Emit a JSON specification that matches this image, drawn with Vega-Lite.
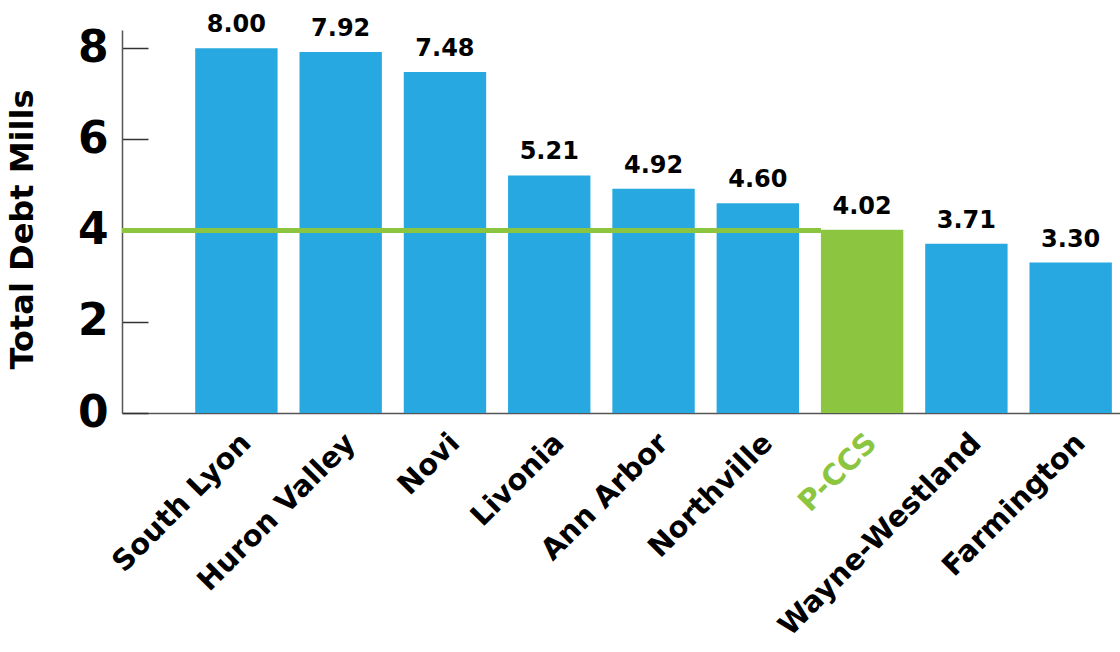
{
  "$schema": "https://vega.github.io/schema/vega-lite/v6.json",
  "width": 998,
  "height": 383,
  "autosize": "none",
  "padding": {"left": 122, "top": 30, "right": 0, "bottom": 239},
  "background": "white",
  "config": {"view": {"stroke": null}, "font": "DejaVu Sans"},
  "data": {
    "values": [
      {"district": "South Lyon", "mills": 8.00},
      {"district": "Huron Valley", "mills": 7.92},
      {"district": "Novi", "mills": 7.48},
      {"district": "Livonia", "mills": 5.21},
      {"district": "Ann Arbor", "mills": 4.92},
      {"district": "Northville", "mills": 4.60},
      {"district": "P-CCS", "mills": 4.02},
      {"district": "Wayne-Westland", "mills": 3.71},
      {"district": "Farmington", "mills": 3.30}
    ]
  },
  "encoding": {
    "x": {
      "field": "district",
      "type": "nominal",
      "sort": null,
      "scale": {
        "domain": ["South Lyon", "Huron Valley", "Novi", "Livonia", "Ann Arbor", "Northville", "P-CCS", "Wayne-Westland", "Farmington"],
        "paddingInner": 0.21,
        "paddingOuter": 0.39,
        "align": 0.9
      },
      "axis": {
        "title": null,
        "labelAngle": -45,
        "labelFont": "DejaVu Sans",
        "labelFontWeight": "bold",
        "labelFontSize": 29,
        "labelLimit": 0,
        "labelColor": {"condition": {"test": "datum.value === 'P-CCS'", "value": "#8CC540"}, "value": "#000000"},
        "ticks": false,
        "labelPadding": 15,
        "domainColor": "#555555",
        "domainWidth": 1.5
      }
    }
  },
  "layer": [
    {
      "mark": {"type": "bar"},
      "encoding": {
        "y": {
          "field": "mills",
          "type": "quantitative",
          "scale": {"domain": [0, 8.4], "nice": false},
          "axis": {
            "title": "Total Debt Mills",
            "titleFont": "DejaVu Sans",
            "titleFontWeight": "bold",
            "titleFontSize": 32,
            "titleColor": "#000000",
            "titlePadding": 38,
            "titleY": 199,
            "values": [0, 2, 4, 6, 8],
            "labelFont": "DejaVu Sans",
            "labelFontWeight": "bold",
            "labelFontSize": 44,
            "labelColor": "#000000",
            "labelPadding": 40,
            "tickSize": -26,
            "tickColor": "#333333",
            "tickWidth": 1.5,
            "domainColor": "#555555",
            "domainWidth": 1.5,
            "grid": false
          }
        },
        "color": {
          "condition": {"test": "datum.district === 'P-CCS'", "value": "#8CC540"},
          "value": "#27A8E0"
        }
      }
    },
    {
      "mark": {"type": "rule", "color": "#8CC540", "strokeWidth": 5},
      "encoding": {
        "y": {"datum": 4},
        "x": {"datum": "P-CCS", "bandPosition": 0},
        "x2": {"value": 0}
      }
    },
    {
      "mark": {"type": "text", "baseline": "alphabetic", "dy": -16, "font": "DejaVu Sans", "fontWeight": "bold", "fontSize": 24, "color": "#000000"},
      "encoding": {
        "y": {"field": "mills", "type": "quantitative"},
        "text": {"field": "mills", "type": "quantitative", "format": ".2f"}
      }
    }
  ]
}
